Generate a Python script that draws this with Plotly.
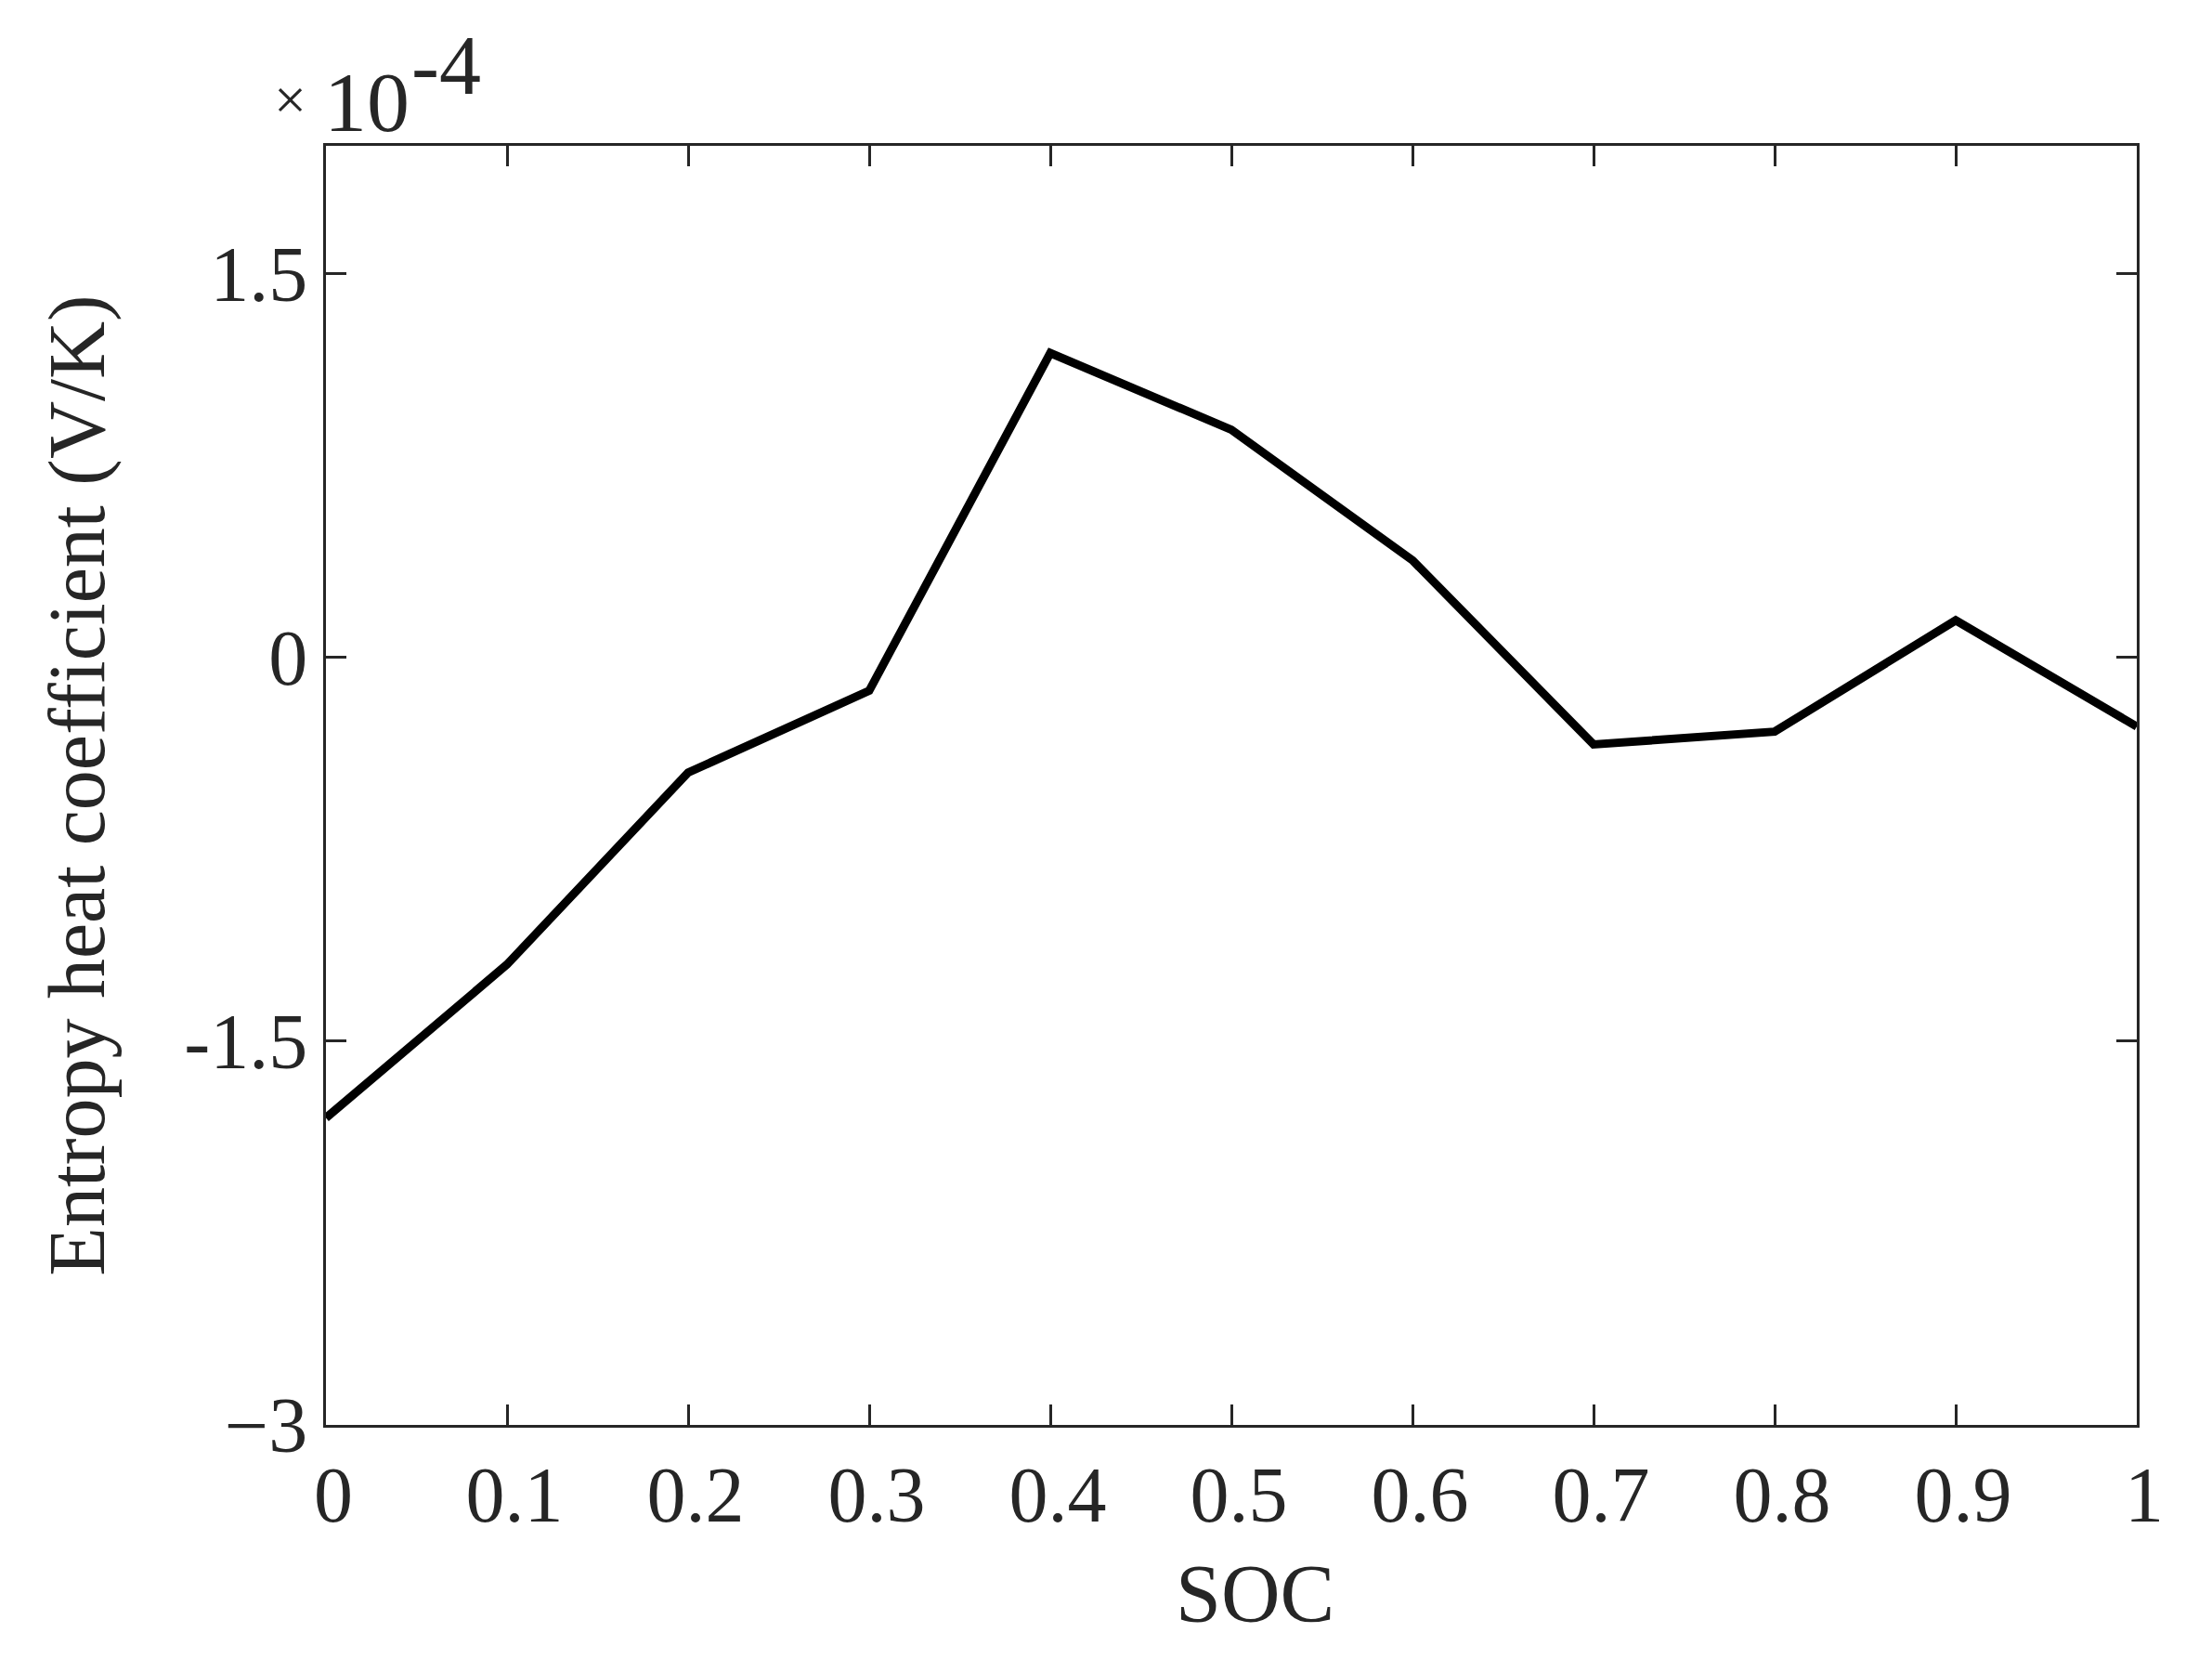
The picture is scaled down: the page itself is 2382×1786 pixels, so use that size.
import plotly.graph_objects as go

# SOC vs entropy heat coefficient (values in units of 1e-4 V/K)
soc = [0, 0.1, 0.2, 0.3, 0.4, 0.5, 0.6, 0.7, 0.8, 0.9, 1.0]
entropy_coeff = [-1.80, -1.20, -0.45, -0.13, 1.19, 0.89, 0.38, -0.34, -0.29, 0.145, -0.27]

x_ticks = [0, 0.1, 0.2, 0.3, 0.4, 0.5, 0.6, 0.7, 0.8, 0.9, 1]
x_ticklabels = ["0", "0.1", "0.2", "0.3", "0.4", "0.5", "0.6", "0.7", "0.8", "0.9", "1"]
y_ticks = [-3, -1.5, 0, 1.5]
y_ticklabels = ["\u22123", "-1.5", "0", "1.5"]

font_family = "Liberation Serif, Times New Roman, serif"
axis_color = "#262626"

fig = go.Figure()
fig.add_trace(go.Scatter(x=soc, y=entropy_coeff, mode="lines",
                         line=dict(color="black", width=9), showlegend=False))

axis_common = dict(showgrid=False, zeroline=False, showline=True, linecolor=axis_color,
                   linewidth=3, mirror="ticks", ticks="inside", ticklen=22, tickwidth=3,
                   tickcolor=axis_color, tickfont=dict(family=font_family, size=84, color=axis_color))

fig.update_xaxes(range=[0, 1], tickvals=x_ticks, ticktext=x_ticklabels,
                 ticklabelstandoff=0, ticklabelshift=8, **axis_common)
fig.update_yaxes(range=[-3, 2], tickvals=y_ticks, ticktext=y_ticklabels,
                 ticklabelstandoff=0,
                 title=dict(text="Entropy heat coefficient (V/K)",
                            font=dict(family=font_family, size=86, color=axis_color),
                            standoff=58),
                 **axis_common)

# x title placed by hand (sits a bit right of centre in the original)
fig.add_annotation(text="SOC", xref="paper", yref="paper", x=0.513, y=-0.132,
                   xanchor="center", yanchor="middle", showarrow=False,
                   font=dict(family=font_family, size=88, color=axis_color))

# exponent label above the axis, MATLAB style
fig.add_annotation(text="\u00d7", xref="paper", yref="paper", x=-0.02, y=1.036,
                   xanchor="center", yanchor="middle", showarrow=False,
                   font=dict(family=font_family, size=62, color=axis_color))
fig.add_annotation(text="10", xref="paper", yref="paper", x=-0.002, y=1.034,
                   xanchor="left", yanchor="middle", showarrow=False,
                   font=dict(family=font_family, size=92, color=axis_color))
fig.add_annotation(text="-4", xref="paper", yref="paper", x=0.046, y=1.063,
                   xanchor="left", yanchor="middle", showarrow=False,
                   font=dict(family=font_family, size=90, color=axis_color))

# the page body adds an 8px offset, so pull the plot area back by that much
fig.update_layout(width=2382, height=1786, paper_bgcolor="white", plot_bgcolor="white",
                  margin=dict(l=343, r=89, t=149, b=260))

fig.write_html("out.html")
